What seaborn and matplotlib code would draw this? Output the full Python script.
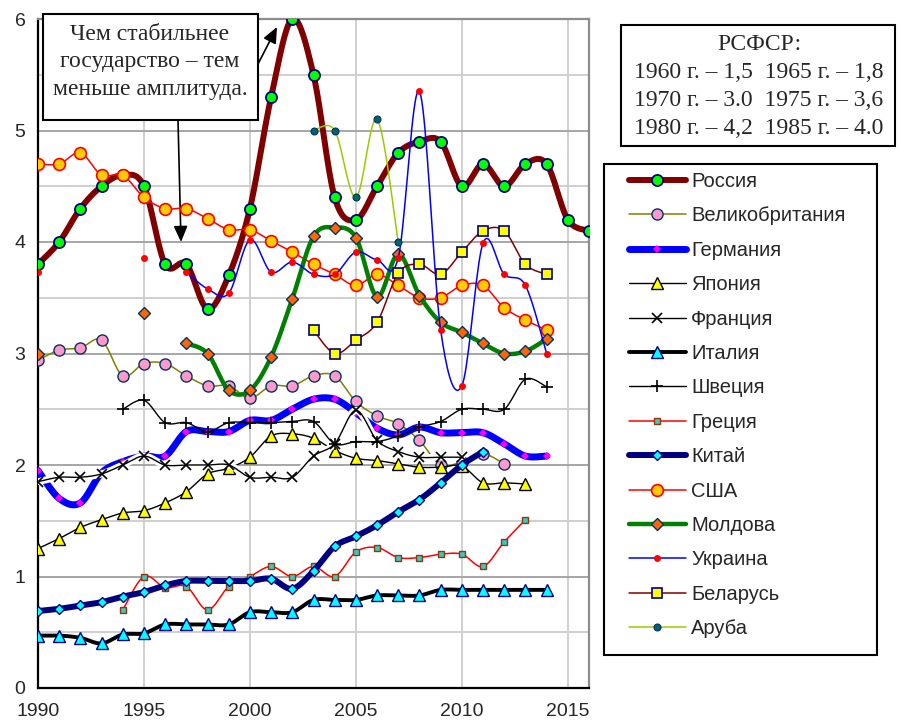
import numpy as np
import pandas as pd
import matplotlib
matplotlib.use('Agg')
import matplotlib.pyplot as plt
import matplotlib.patheffects as pe
import seaborn as sns
from matplotlib.lines import Line2D
from matplotlib.patches import Rectangle
from matplotlib.ticker import MultipleLocator

nan = np.nan
years = list(range(1990, 2017))

# values, 1990 onwards (nan = no data)
russia = [3.8, 4.0, 4.3, 4.5, 4.6, 4.5, 3.8, 3.8, 3.4, 3.7, 4.3, 5.3, 6.0, 5.5, 4.4, 4.2,
          4.5, 4.8, 4.9, 4.9, 4.5, 4.7, 4.5, 4.7, 4.7, 4.2, 4.1]
uk = [2.94, 3.03, 3.05, 3.12, 2.80, 2.91, 2.91, 2.80, 2.71, 2.71, 2.60, 2.71, 2.71, 2.80,
      2.80, 2.57, 2.44, 2.37, 2.22, 2.00, 2.03, 2.10, 2.01]
germany = [1.95, 1.70, 1.66, 1.93, 2.03, 2.08, 2.08, 2.30, 2.30, 2.30, 2.40, 2.40, 2.50,
           2.59, 2.59, 2.47, 2.33, 2.27, 2.34, 2.29, 2.29, 2.29, 2.19, 2.08, 2.08]
japan = [1.25, 1.34, 1.44, 1.51, 1.57, 1.59, 1.66, 1.76, 1.92, 1.97, 2.07, 2.26, 2.28,
         2.24, 2.13, 2.06, 2.04, 2.01, 1.98, 1.98, 1.99, 1.84, 1.84, 1.83]
france = [1.85, 1.89, 1.89, 1.92, 2.00, 2.08, 2.00, 2.00, 2.00, 2.00, 1.89, 1.89, 1.89,
          2.08, 2.19, 2.49, 2.22, 2.12, 2.07, 2.07, 2.07]
italy = [0.47, 0.47, 0.45, 0.40, 0.48, 0.49, 0.57, 0.57, 0.57, 0.57, 0.68, 0.68, 0.68,
         0.79, 0.79, 0.79, 0.83, 0.83, 0.83, 0.88, 0.88, 0.88, 0.88, 0.88, 0.88]
sweden = [nan, nan, nan, nan, 2.50, 2.58, 2.38, 2.38, 2.30, 2.38, 2.38, 2.38, 2.39, 2.39,
          2.19, 2.21, 2.21, 2.26, 2.34, 2.39, 2.50, 2.50, 2.50, 2.77, 2.70]
greece = [nan, nan, nan, nan, 0.70, 1.00, 0.90, 0.91, 0.70, 0.91, 1.00, 1.09, 1.00, 1.09,
          1.00, 1.22, 1.26, 1.17, 1.17, 1.20, 1.20, 1.09, 1.31, 1.51]
china = [0.69, 0.71, 0.74, 0.77, 0.82, 0.86, 0.92, 0.96, 0.96, 0.96, 0.96, 0.98, 0.89,
         1.05, 1.27, 1.36, 1.46, 1.58, 1.69, 1.84, 2.00, 2.12]
usa = [4.70, 4.70, 4.80, 4.60, 4.60, 4.40, 4.30, 4.30, 4.21, 4.11, 4.11, 4.01, 3.91, 3.80,
       3.71, 3.61, 3.71, 3.61, 3.50, 3.50, 3.61, 3.61, 3.41, 3.30, 3.21]
moldova = [3.00, nan, nan, nan, nan, 3.36, nan, 3.09, 3.00, 2.67, 2.67, 2.97, 3.49, 4.05,
           4.13, 4.04, 3.51, 3.89, 3.52, 3.28, 3.19, 3.09, 3.00, 3.02, 3.13]
ukraine = [3.73, nan, nan, nan, nan, 3.86, nan, 3.73, 3.58, 3.54, 4.02, 3.73, 3.82, 3.71,
           3.71, 3.91, 3.84, 3.86, 5.35, 3.21, 2.71, 3.99, 3.71, 3.61, 3.00]
belarus = [nan] * 13 + [3.21, 3.00, 3.12, 3.28, 3.72, 3.80, 3.71, 3.91, 4.10, 4.10, 3.80, 3.71]
aruba = [nan] * 13 + [5.0, 5.0, 4.4, 5.1, 4.0]

names = ['Россия', 'Великобритания', 'Германия', 'Япония', 'Франция', 'Италия', 'Швеция',
         'Греция', 'Китай', 'США', 'Молдова', 'Украина', 'Беларусь', 'Аруба']
values = [russia, uk, germany, japan, france, italy, sweden, greece, china, usa, moldova,
          ukraine, belarus, aruba]

df = pd.DataFrame({'year': years})
for n, v in zip(names, values):
    df[n] = list(v) + [nan] * (len(years) - len(v))

# line colour, line width, marker, size, face, edge, edge width
styles = {
    'Россия':         ('#800000', 4.3, 'o', 8.0, '#00FF00', '#000080', 1.3),
    'Великобритания': ('#808000', 1.1, 'o', 8.0, '#FF99CC', '#003366', 1.0),
    'Германия':       ('#0000FF', 5.0, 'D', 4.2, '#FF00FF', '#FF00FF', 0.0),
    'Япония':         ('#000000', 1.0, '^', 8.0, '#FFFF00', '#000000', 1.0),
    'Франция':        ('#000000', 1.0, 'x', 7.5, '#000000', '#000000', 1.2),
    'Италия':         ('#000000', 2.8, '^', 8.0, '#00FFFF', '#000080', 1.0),
    'Швеция':         ('#000000', 1.0, '+', 9.0, '#000000', '#000000', 1.2),
    'Греция':         ('#FF0000', 1.1, 's', 5.0, '#33CCCC', '#993300', 1.0),
    'Китай':          ('#000080', 4.3, 'D', 5.6, '#00FFFF', '#000080', 1.0),
    'США':            ('#FF0000', 1.1, 'o', 8.5, '#FFCC00', '#FF0000', 1.2),
    'Молдова':        ('#008000', 3.2, 'D', 6.0, '#FF6600', '#003366', 1.0),
    'Украина':        ('#0000FF', 1.1, 'o', 5.0, '#FF0000', '#FF0000', 0.0),
    'Беларусь':       ('#800000', 1.1, 's', 7.5, '#FFFF00', '#000080', 1.2),
    'Аруба':          ('#99CC00', 1.1, 'o', 5.0, '#006666', '#003366', 0.8),
}


def smooth(x, y, n=20):
    # Excel-style smoothed line (Catmull-Rom through the data points)
    px = np.r_[x[0], x, x[-1]]
    py = np.r_[y[0], y, y[-1]]
    t = np.linspace(0, 1, n)
    ox, oy = [], []
    for i in range(len(x) - 1):
        for p, o in ((px, ox), (py, oy)):
            p0, p1, p2, p3 = p[i:i + 4]
            o.extend(0.5 * (2 * p1 + (p2 - p0) * t + (2 * p0 - 5 * p1 + 4 * p2 - p3) * t ** 2
                            + (3 * p1 - p0 - 3 * p2 + p3) * t ** 3))
    return np.array(ox), np.array(oy)


sns.set_style('white')
plt.rcParams['font.family'] = ['Liberation Sans', 'DejaVu Sans']

fig = plt.figure(figsize=(9.01, 7.25), dpi=100)
ax = fig.add_axes([38 / 901, 1 - 688 / 725, (589 - 38) / 901, (688 - 19) / 725])

handles = []
for k, name in enumerate(names):
    c, lw, m, ms, mfc, mec, mew = styles[name]
    z = 3 + k
    sub = df[['year', name]]
    # split on gaps
    grp = sub[name].isna().cumsum()
    for _, seg in sub.dropna().groupby(grp[sub[name].notna()]):
        if len(seg) > 1:
            sx, sy = smooth(seg['year'].values.astype(float), seg[name].values)
            lp = sns.lineplot(x=sx, y=sy, ax=ax, color=c, lw=lw, estimator=None, sort=False,
                              legend=False, zorder=z, solid_capstyle='round',
                              solid_joinstyle='round')
            if name == 'Франция':
                # the France line has a white halo in the original
                lp.lines[-1].set_path_effects([pe.withStroke(linewidth=5, foreground='white')])
    ax.plot(sub['year'], sub[name], ls='none', marker=m, ms=ms, mfc=mfc, mec=mec, mew=mew,
            zorder=z + 0.5)
    handles.append(Line2D([0], [0], color=c, lw=lw, marker=m, ms=ms, mfc=mfc, mec=mec,
                          mew=mew, label=name))

ax.set_xlim(1990, 2016)
ax.set_ylim(0, 6)
ax.xaxis.set_major_locator(MultipleLocator(5))
ax.yaxis.set_major_locator(MultipleLocator(1))
ax.yaxis.set_minor_locator(MultipleLocator(0.5))
ax.grid(which='major', axis='y', color='#a6a6a6', lw=1.4, zorder=0)
ax.grid(which='minor', axis='y', color='#cfcfcf', lw=1.4, zorder=0)
ax.grid(which='major', axis='x', color='#cfcfcf', lw=1.4, zorder=0)
ax.set_axisbelow(True)
for s in ['left', 'bottom']:
    ax.spines[s].set_color('black')
    ax.spines[s].set_linewidth(1.6)
for s in ['top', 'right']:
    ax.spines[s].set_color('#8c8c8c')
    ax.spines[s].set_linewidth(1.6)
ax.tick_params(axis='both', which='both', direction='out', length=4, width=1.4,
               color='black', labelsize=14, pad=5)
ax.tick_params(axis='x', pad=7)
ax.tick_params(axis='y', which='minor', length=4)
ax.set_xlabel('')
ax.set_ylabel('')

# legend frame drawn separately so the inner padding can match
fig.add_artist(Rectangle((604 / 901, 1 - 655 / 725), (877 - 604) / 901, (655 - 164) / 725,
                         transform=fig.transFigure, facecolor='white', edgecolor='black',
                         lw=1.5, zorder=5))
leg = fig.legend(handles=handles, loc='upper left', bbox_to_anchor=(629 / 901, 1 - 172 / 725),
                 frameon=False, prop={'family': 'Liberation Sans', 'size': 14.5},
                 handlelength=2.83, handletextpad=0.25, labelspacing=0.765, borderpad=0,
                 borderaxespad=0)
leg.set_zorder(6)

# РСФСР box
fig.add_artist(Rectangle((621 / 901, 1 - 146 / 725), (895 - 621) / 901, (146 - 25) / 725,
                         transform=fig.transFigure, facecolor='white', edgecolor='black',
                         lw=1.5, zorder=5))
serif = {'family': 'Liberation Serif', 'size': 17}
rsfsr = ['РСФСР:', '1960 г. – 1,5  1965 г. – 1,8', '1970 г. – 3.0  1975 г. – 3,6',
         '1980 г. – 4,2  1985 г. – 4.0']
for i, line in enumerate(rsfsr):
    fig.text(759 / 901, 1 - (45 + 28 * i) / 725, line, ha='center', va='center',
             fontdict=serif, zorder=6)

# note box with arrows
fig.add_artist(Rectangle((43 / 901, 1 - 120 / 725), (258 - 43) / 901, (120 - 14) / 725,
                         transform=fig.transFigure, facecolor='white', edgecolor='black',
                         lw=1.5, zorder=7))
note = ['Чем стабильнее', 'государство – тем', 'меньше амплитуда.']
for i, line in enumerate(note):
    fig.text(150 / 901, 1 - (34 + 28 * i) / 725, line, ha='center', va='center',
             fontdict=serif, zorder=8)
arrow = dict(arrowstyle='-|>,head_length=0.8,head_width=0.35', color='black', lw=1.2,
             mutation_scale=12, shrinkA=0, shrinkB=0)
ax.annotate('', xy=(277, 725 - 27), xytext=(258, 725 - 64), xycoords='figure pixels',
            textcoords='figure pixels', arrowprops=arrow, annotation_clip=False, zorder=9)
ax.annotate('', xy=(181, 725 - 242), xytext=(178, 725 - 120), xycoords='figure pixels',
            textcoords='figure pixels', arrowprops=arrow, annotation_clip=False, zorder=9)

fig.savefig('out.png', dpi=100)
